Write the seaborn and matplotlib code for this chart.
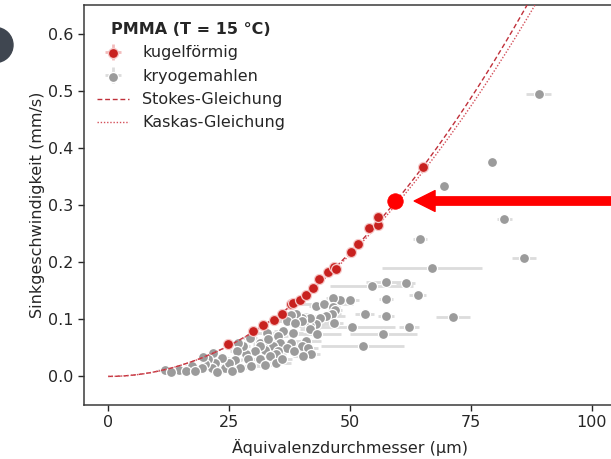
import numpy as np
import pandas as pd
import matplotlib
matplotlib.use("Agg")
import matplotlib.pyplot as plt
from matplotlib.patches import Circle
import seaborn as sns

# --- measured particles -------------------------------------------------
# spherical PMMA particles: equivalent diameter (µm), sinking velocity (mm/s), diameter spread (µm)
sphere_d = [24.8, 29.9, 32.1, 34.2, 35.9, 37.9, 38.3, 39.6, 40.9, 42.3, 43.5,
            45.5, 46.6, 47.1, 50.2, 51.7, 54.0, 55.8, 55.7, 65.0]
sphere_v = [0.056, 0.080, 0.090, 0.099, 0.110, 0.127, 0.128, 0.133, 0.143, 0.154, 0.170,
            0.183, 0.191, 0.188, 0.218, 0.231, 0.259, 0.265, 0.279, 0.367]
sphere_err = [1.0, 1.0, 1.0, 1.0, 1.0, 1.0, 1.0, 1.0, 1.0, 1.0, 1.0,
              1.0, 1.0, 1.0, 1.0, 1.0, 1.0, 1.0, 1.0, 1.0]

# highlighted spherical particle
focus_d = [59.4]
focus_v = [0.307]

# cryo-milled PMMA particles
milled_d = [89.0, 79.4, 69.5, 81.9, 64.5, 86.0, 66.9, 71.3, 64.0, 54.5, 57.4, 61.5,
            57.4, 53.0, 57.4, 50.4, 62.2, 56.9, 52.6, 47.9, 49.9, 46.5, 44.5, 43.0,
            44.6, 46.5, 46.9, 46.2, 45.0, 43.8, 46.6, 43.0, 41.7, 41.7, 40.0, 38.9,
            37.8, 40.0, 36.9, 38.6, 41.7, 43.1, 38.2, 36.2, 32.8, 35.2, 41.0, 40.0,
            41.4, 37.9, 35.5, 33.5, 34.1, 36.9, 41.9, 40.3, 32.4, 35.2, 34.8, 33.5,
            34.8, 31.4, 33.1, 29.3, 31.4, 30.4, 28.5, 29.0, 31.4, 27.9, 26.9, 26.6,
            26.2, 27.2, 24.1, 25.0, 23.5, 21.7, 22.1, 21.4, 20.7, 20.0, 19.7, 19.3,
            17.3, 14.7, 11.7, 13.0, 16.0, 18.0, 22.5, 25.5, 29.5, 32.5, 36.0, 38.5]
milled_v = [0.494, 0.375, 0.334, 0.276, 0.240, 0.207, 0.190, 0.104, 0.143, 0.158, 0.165, 0.164,
            0.135, 0.110, 0.106, 0.087, 0.087, 0.075, 0.053, 0.133, 0.133, 0.138, 0.126, 0.123,
            0.127, 0.121, 0.117, 0.110, 0.106, 0.103, 0.094, 0.091, 0.088, 0.103, 0.103, 0.109,
            0.108, 0.097, 0.097, 0.094, 0.083, 0.075, 0.076, 0.079, 0.076, 0.071, 0.062, 0.053,
            0.050, 0.059, 0.059, 0.057, 0.053, 0.050, 0.040, 0.036, 0.047, 0.044, 0.039, 0.036,
            0.024, 0.059, 0.065, 0.068, 0.053, 0.044, 0.039, 0.030, 0.030, 0.053, 0.059, 0.044,
            0.028, 0.015, 0.015, 0.024, 0.032, 0.041, 0.024, 0.015, 0.030, 0.021, 0.034, 0.015,
            0.018, 0.012, 0.012, 0.008, 0.010, 0.009, 0.008, 0.010, 0.018, 0.020, 0.030, 0.045]
milled_err = [2.6, 1.0, 1.0, 1.5, 1.5, 2.5, 10.3, 3.6, 1.7, 8.6, 4.0, 2.0,
              1.5, 2.0, 1.7, 9.0, 2.0, 6.9, 8.6, 2.0, 2.0, 1.5, 2.0, 1.5,
              6.0, 1.5, 1.5, 2.0, 4.0, 2.0, 2.0, 3.0, 3.0, 1.5, 2.0, 3.0,
              1.5, 6.0, 2.0, 2.0, 2.0, 5.0, 2.0, 2.0, 2.0, 2.0, 3.0, 2.0,
              2.0, 2.0, 2.0, 1.5, 2.0, 2.0, 2.0, 2.0, 1.5, 2.0, 2.0, 2.0,
              3.0, 1.5, 1.5, 1.5, 1.5, 1.5, 1.5, 1.5, 1.5, 1.5, 1.5, 1.5,
              1.5, 1.5, 1.5, 1.5, 1.5, 1.0, 1.5, 1.5, 1.5, 1.0, 1.0, 1.5,
              1.5, 1.5, 1.5, 1.5, 1.5, 1.5, 1.5, 1.5, 2.0, 2.0, 2.0, 2.0]

# --- settling-velocity models -------------------------------------------
rho_p = 1180.0      # PMMA density, kg/m^3
rho_f = 999.1       # water at 15 °C, kg/m^3
mu = 1.138e-3       # dynamic viscosity of water at 15 °C, Pa s
g = 9.81

d_um = np.linspace(0, 100, 400)
d_m = d_um * 1e-6
v_stokes = (rho_p - rho_f) * g * d_m**2 / (18 * mu)          # m/s

# Kaskas drag law c_w = 24/Re + 4/sqrt(Re) + 0.4, solved by fixed-point iteration
v_kaskas = v_stokes.copy()
for _ in range(200):
    re = np.maximum(rho_f * v_kaskas * d_m / mu, 1e-12)
    cw = 24 / re + 4 / np.sqrt(re) + 0.4
    v_kaskas = np.sqrt(4 * (rho_p - rho_f) * g * d_m / (3 * cw * rho_f))
v_kaskas[0] = 0.0

curves = pd.DataFrame({"d": d_um, "stokes": v_stokes * 1e3, "kaskas": v_kaskas * 1e3})
spheres = pd.DataFrame({"d": sphere_d, "v": sphere_v, "err": sphere_err})
milled = pd.DataFrame({"d": milled_d, "v": milled_v, "err": milled_err})
focus = pd.DataFrame({"d": focus_d, "v": focus_v})

# --- figure ---------------------------------------------------------------
sns.set_style("ticks")
plt.rcParams["font.family"] = ["DejaVu Sans"]
plt.rcParams["font.size"] = 11.5

W, H = 611, 459
fig = plt.figure(figsize=(W / 100, H / 100), dpi=100)
ax = fig.add_axes([84 / W, 1 - 405 / H, (616 - 84) / W, 400 / H])

red = "#c8211f"
grey = "#9b9b9b"
line_red = "#c0303a"

eb_milled = ax.errorbar(milled["d"], milled["v"], xerr=milled["err"], yerr=0.004,
                        fmt="none", ecolor="#dcdcdc", elinewidth=2.0, capsize=0, zorder=1)
eb_sph = ax.errorbar(spheres["d"], spheres["v"], xerr=spheres["err"], yerr=0.004,
                     fmt="none", ecolor="#f2bcbc", elinewidth=2.0, capsize=0, zorder=1)

sns.scatterplot(data=milled, x="d", y="v", color=grey, s=52, edgecolor="white",
                linewidth=0.9, ax=ax, zorder=2)
sc_milled = ax.collections[-1]

sns.lineplot(data=curves, x="d", y="stokes", color=line_red, linestyle=(0, (3.5, 2)),
             linewidth=1.0, ax=ax, zorder=3)
ln_stokes = ax.lines[-1]
sns.lineplot(data=curves, x="d", y="kaskas", color="#d4505a", linestyle=(0, (1, 1.3)),
             linewidth=1.0, ax=ax, zorder=3)
ln_kaskas = ax.lines[-1]

sns.scatterplot(data=spheres, x="d", y="v", color=red, s=52, edgecolor="#f6c9c9",
                linewidth=0.9, ax=ax, zorder=4)
sc_sph = ax.collections[-1]

sns.scatterplot(data=focus, x="d", y="v", color="#ff0000", s=125, edgecolor="#ff0000",
                linewidth=0.5, ax=ax, zorder=5)

# pointer arrow towards the highlighted particle
ax.annotate("", xy=(focus_d[0], focus_v[0]), xycoords="data",
            xytext=(260, 0), textcoords="offset points",
            arrowprops=dict(arrowstyle="simple,head_length=1.5,head_width=1.5,tail_width=0.6",
                            mutation_scale=10, color="#ff0000", shrinkA=0, shrinkB=13.5),
            annotation_clip=False, zorder=6)

ax.set_xlim(-5, 105)
ax.set_ylim(-0.05, 0.65)
ax.set_xticks([0, 25, 50, 75, 100])
ax.set_yticks([0.0, 0.1, 0.2, 0.3, 0.4, 0.5, 0.6])
ax.set_yticklabels(["0.0", "0.1", "0.2", "0.3", "0.4", "0.5", "0.6"])
ax.set_xlabel("Äquivalenzdurchmesser (µm)", fontsize=11.5, labelpad=6)
ax.set_ylabel("Sinkgeschwindigkeit (mm/s)", fontsize=11.5, labelpad=2)
ax.tick_params(labelsize=11.5, length=4, width=1, colors="#262626")
for s in ax.spines.values():
    s.set_color("#3a3a3a")
    s.set_linewidth(1.1)

handles = [(eb_sph, sc_sph), (eb_milled, sc_milled), ln_stokes, ln_kaskas]
labels = ["kugelförmig", "kryogemahlen", "Stokes-Gleichung", "Kaskas-Gleichung"]
leg = ax.legend(handles, labels, title="PMMA (T = 15 °C)",
                title_fontproperties={"weight": "bold", "size": 11.5},
                frameon=False, loc="upper left", bbox_to_anchor=(0.004, 0.985),
                borderaxespad=0.3, handlelength=2.0, handletextpad=0.8,
                labelspacing=0.52, fontsize=11.5)

# dark round badge at the left margin
fig.add_artist(Circle((-0.045, (H - 45) / 100), 0.175, transform=fig.dpi_scale_trans,
                      color="#3f4650", zorder=10))

fig.savefig("out.png", dpi=100)
